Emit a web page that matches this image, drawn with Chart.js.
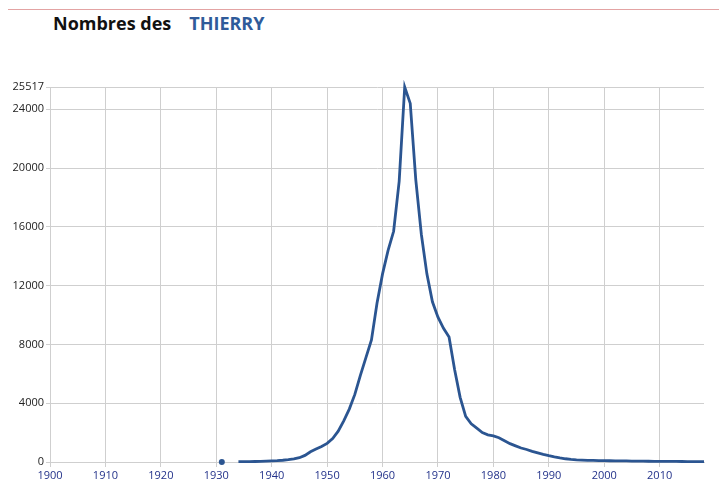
<!DOCTYPE html>
<html>
<head>
<meta charset="utf-8">
<script src="https://cdn.jsdelivr.net/npm/chart.js@4/dist/chart.umd.min.js"></script>
<style>
  html, body { margin: 0; padding: 0; background: #fff; }
  body { width: 719px; height: 486px; position: relative; overflow: hidden; font-family: 'Open Sans', sans-serif; }
  .topline { position: absolute; left: 8px; right: 0; top: 9px; height: 1px; background: #e3a3a3; }
  .title { position: absolute; left: 53px; top: 11px; font-size: 18px; font-weight: 700; color: #111; white-space: nowrap; }
  .title .name { color: #2f5b9a; margin-left: 18px; }
  #wrap { position: absolute; left: 0; top: 0; width: 719px; height: 486px; }
</style>
</head>
<body>
<div class="topline"></div>
<div class="title">Nombres des<span class="name">THIERRY</span></div>
<div id="wrap"><canvas id="chart"></canvas></div>
<script>
// data
const dotYear = 1931
const dotValue = 4
const firstYear = 1934
const counts = [
  20, 25, 30, 35, 45, 55, 70, 90, 120, 160,           // 1934-1943
  210, 290, 450, 700, 880, 1050, 1270, 1600, 2100, 2800, // 1944-1953
  3600, 4600, 5900, 7100, 8300, 10800, 12800, 14400, 15700, 19100, // 1954-1963
  25517, 24400, 19200, 15500, 12800, 10900, 9850, 9100, 8500, 6300, // 1964-1973
  4400, 3100, 2600, 2300, 2000, 1850, 1780, 1650, 1450, 1250,     // 1974-1983
  1100, 950, 850, 720, 620, 520, 430, 350, 280, 220,             // 1984-1993
  180, 150, 130, 115, 105, 95, 90, 85, 80, 75,                   // 1994-2003
  70, 65, 60, 55, 52, 48, 45, 42, 40, 37,                        // 2004-2013
  34, 30, 27, 24, 20                                             // 2014-2018
]
const yTicks = [0, 4000, 8000, 12000, 16000, 20000, 24000, 25517]
const xTicks = [1900, 1910, 1920, 1930, 1940, 1950, 1960, 1970, 1980, 1990, 2000, 2010]

const points = [{ x: dotYear, y: dotValue }, { x: dotYear + 1, y: null }]
counts.forEach((v, i) => points.push({ x: firstYear + i, y: v }))

const lineColor = '#2b5591'

new Chart(document.getElementById('chart'), {
  type: 'line',
  data: {
    datasets: [{
      data: points,
      borderColor: lineColor,
      backgroundColor: lineColor,
      borderWidth: 2.8,
      tension: 0,
      spanGaps: false,
      clip: false,
      pointRadius: (ctx) => ctx.raw && ctx.raw.x === dotYear ? 3 : 0,
      pointBorderWidth: 0
    }]
  },
  options: {
    responsive: true,
    maintainAspectRatio: false,
    animation: false,
    layout: { padding: { left: 0, top: 87, right: 15, bottom: 0 } },
    plugins: { legend: { display: false }, tooltip: { enabled: false } },
    scales: {
      x: {
        type: 'linear',
        min: 1900,
        max: 2018,
        afterBuildTicks: (axis) => { axis.ticks = xTicks.map((v) => ({ value: v })) },
        afterFit: (axis) => { axis.height = 24 },
        grid: { color: '#cfcfcf', tickLength: 5, drawTicks: true },
        border: { color: '#cfcfcf' },
        ticks: {
          color: '#23328a',
          font: { family: 'Open Sans', size: 11 },
          padding: 2,
          maxRotation: 0,
          callback: (v) => String(v)
        }
      },
      y: {
        min: 0,
        max: 25517,
        afterBuildTicks: (axis) => { axis.ticks = yTicks.map((v) => ({ value: v })) },
        afterFit: (axis) => { axis.width = 50 },
        grid: { color: '#cfcfcf', tickLength: 4 },
        border: { color: '#cfcfcf' },
        ticks: {
          color: '#222',
          font: { family: 'Open Sans', size: 11 },
          padding: 2,
          callback: (v) => String(v)
        }
      }
    }
  }
})
</script>
</body>
</html>
